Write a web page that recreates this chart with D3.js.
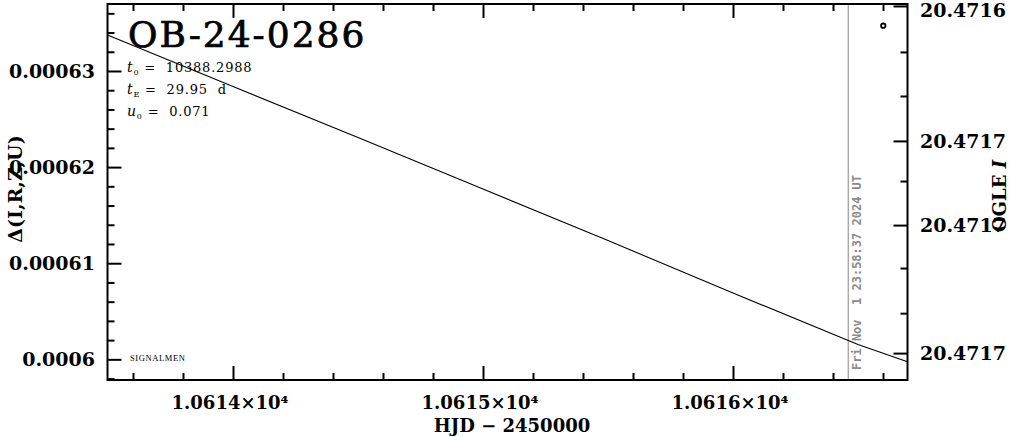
<!DOCTYPE html>
<html><head><meta charset="utf-8">
<script src="https://cdn.jsdelivr.net/npm/d3@7"></script>
<style>body{margin:0;background:#fff}svg{display:block}</style>
</head><body>
<svg id="c" width="1011" height="437"></svg>
<script>
// ---- data ----
const hjd   = [10613.498, 10614, 10614.5, 10615, 10615.5, 10616, 10616.5, 10616.698];
const model = [0.00063375, 0.00062839, 0.00062308, 0.00061772, 0.00061236, 0.00060690, 0.00060154, 0.00059975];
const obsHjd = [10616.601];
const obsVal = [0.00063471];
const xMajorTicks = [10614, 10615, 10616];
const xTickLabels = ["1.0614×10⁴", "1.0615×10⁴", "1.0616×10⁴"];
const yMajorTicks = [0.0006, 0.00061, 0.00062, 0.00063];
const yTickLabels = ["0.0006", "0.00061", "0.00062", "0.00063"];
const magMajorTicks = [20.4716, 20.4716622, 20.471701, 20.47176];
const magTickLabels = ["20.4716", "20.4717", "20.4717", "20.4717"];
const magMinorTicks = [20.4716212, 20.4716415, 20.4716807, 20.4717208, 20.4717416];
const nowHjd = 10616.461;
const nowLabel = "Fri Nov  1 23:58:37 2024 UT";
const eventName = "OB-24-0286";
const paramNames = [["t", "0"], ["t", "E"], ["u", "0"]];
const paramValues = ["10388.2988", "29.95  d", "0.071"];
const xTitle = "HJD − 2450000";
const yTitle = "Δ(I,R,Z,U)";
const y2Title = ["OGLE ", "I"];
const credit = "SIGNALMEN";

// ---- layout ----
const L = 107.5, R = 907.5, T = 4, B = 380;
const svg = d3.select("#c");
const x = d3.scaleLinear().domain([10613.498, 10616.698]).range([L, R]);
const y = d3.scaleLinear().domain([0.00059785, 0.00063697]).range([B, T]);
const ym = d3.scaleLinear().domain([20.4715991, 20.4717724]).range([T, B]);

const xMinor = d3.range(10613.6, 10616.7, 0.2).filter(v => !xMajorTicks.some(m => Math.abs(m - v) < 1e-6));
const yMinor = d3.range(0.000598, 0.000637, 0.000002).filter(v => !yMajorTicks.some(m => Math.abs(m - v) < 1e-9));

const labFont = "'DejaVu Serif', serif";

function tickAxis(gen, vals, size, tr) {
  const g = svg.append("g").attr("transform", tr)
    .call(gen.tickValues(vals).tickSize(size).tickFormat(""));
  g.select(".domain").remove();
  g.selectAll(".tick line").attr("stroke", "#000").attr("stroke-width", 2);
  return g;
}
// bottom (ticks pointing up)
tickAxis(d3.axisBottom(x), xMajorTicks, -14, `translate(0,${B})`);
tickAxis(d3.axisBottom(x), xMinor, -7, `translate(0,${B})`);
// top (ticks pointing down)
tickAxis(d3.axisTop(x), xMajorTicks, -14, `translate(0,${T})`);
tickAxis(d3.axisTop(x), xMinor, -7, `translate(0,${T})`);
// left
tickAxis(d3.axisLeft(y), yMajorTicks, -14, `translate(${L},0)`);
tickAxis(d3.axisLeft(y), yMinor, -7, `translate(${L},0)`);
// right (magnitude)
tickAxis(d3.axisRight(ym), magMajorTicks, -14, `translate(${R},0)`);
tickAxis(d3.axisRight(ym), magMinorTicks, -7, `translate(${R},0)`);

// now line
svg.append("line").attr("x1", x(nowHjd)).attr("x2", x(nowHjd)).attr("y1", T).attr("y2", B)
  .attr("stroke", "#999").attr("stroke-width", 1.2);
svg.append("text").attr("transform", `translate(${x(nowHjd) + 13},370) rotate(-90)`)
  .attr("font-family", "'DejaVu Sans Mono', monospace").attr("font-weight", "bold")
  .attr("font-size", 12).attr("fill", "#8c8c8c").attr("xml:space", "preserve").text(nowLabel);

// model line
svg.append("path").datum(hjd.map((h, i) => [h, model[i]]))
  .attr("d", d3.line().x(d => x(d[0])).y(d => y(d[1])))
  .attr("fill", "none").attr("stroke", "#000").attr("stroke-width", 1.1);

// observed point
svg.selectAll("circle.obs").data(obsHjd).enter().append("circle")
  .attr("cx", d => x(d)).attr("cy", (d, i) => y(obsVal[i])).attr("r", 2.2)
  .attr("fill", "#fff").attr("stroke", "#000").attr("stroke-width", 1.8);

// frame
svg.append("rect").attr("x", L).attr("y", T).attr("width", R - L).attr("height", B - T)
  .attr("fill", "none").attr("stroke", "#000").attr("stroke-width", 2);

// tick labels
svg.selectAll("text.xl").data(xMajorTicks).enter().append("text")
  .attr("x", d => x(d) - 3).attr("y", 409).attr("text-anchor", "middle")
  .attr("font-family", labFont).attr("font-weight", "bold").attr("font-size", 18)
  .text((d, i) => xTickLabels[i]);
svg.selectAll("text.yl").data(yMajorTicks).enter().append("text")
  .attr("x", 95).attr("y", d => y(d)).attr("dy", "0.36em").attr("text-anchor", "end")
  .attr("font-family", labFont).attr("font-weight", "bold").attr("font-size", 19)
  .text((d, i) => yTickLabels[i]);
svg.selectAll("text.ml").data(magMajorTicks).enter().append("text")
  .attr("x", 920).attr("y", d => Math.max(ym(d), 10)).attr("dy", "0.36em")
  .attr("font-family", labFont).attr("font-weight", "bold").attr("font-size", 19)
  .text((d, i) => magTickLabels[i]);

// axis titles
svg.append("text").attr("x", 512).attr("y", 432).attr("text-anchor", "middle")
  .attr("font-family", labFont).attr("font-weight", "bold").attr("font-size", 18)
  .attr("xml:space", "preserve").text(xTitle);
svg.append("text").attr("transform", "translate(22,189) rotate(-90)").attr("text-anchor", "middle")
  .attr("font-family", labFont).attr("font-weight", "bold").attr("font-size", 19).text(yTitle);
const t2 = svg.append("text").attr("transform", "translate(1006,196) rotate(-90)").attr("text-anchor", "middle")
  .attr("font-family", labFont).attr("font-weight", "bold").attr("font-size", 18);
t2.append("tspan").attr("xml:space", "preserve").text(y2Title[0]);
t2.append("tspan").attr("font-style", "italic").text(y2Title[1]);

// event name
svg.append("text").attr("x", 128).attr("y", 47)
  .attr("font-family", labFont).attr("font-size", 36).attr("letter-spacing", 2)
  .attr("stroke", "#000").attr("stroke-width", 0.7).text(eventName);

// parameters
paramNames.forEach((p, i) => {
  const t = svg.append("text").attr("x", 127).attr("y", 71.5 + i * 22)
    .attr("font-family", labFont).attr("font-size", 13).attr("letter-spacing", 0.8);
  t.append("tspan").attr("font-style", "italic").attr("font-size", 14).text(p[0]);
  t.append("tspan").attr("font-size", 8).attr("dy", 3).text(p[1]);
  t.append("tspan").attr("dy", -3).attr("xml:space", "preserve").text(" =  " + paramValues[i]);
});

// credit
svg.append("text").attr("x", 130).attr("y", 361)
  .attr("font-family", "'Liberation Serif', serif").attr("font-size", 8.5).attr("letter-spacing", 0.6)
  .text(credit);
</script>
</body></html>
